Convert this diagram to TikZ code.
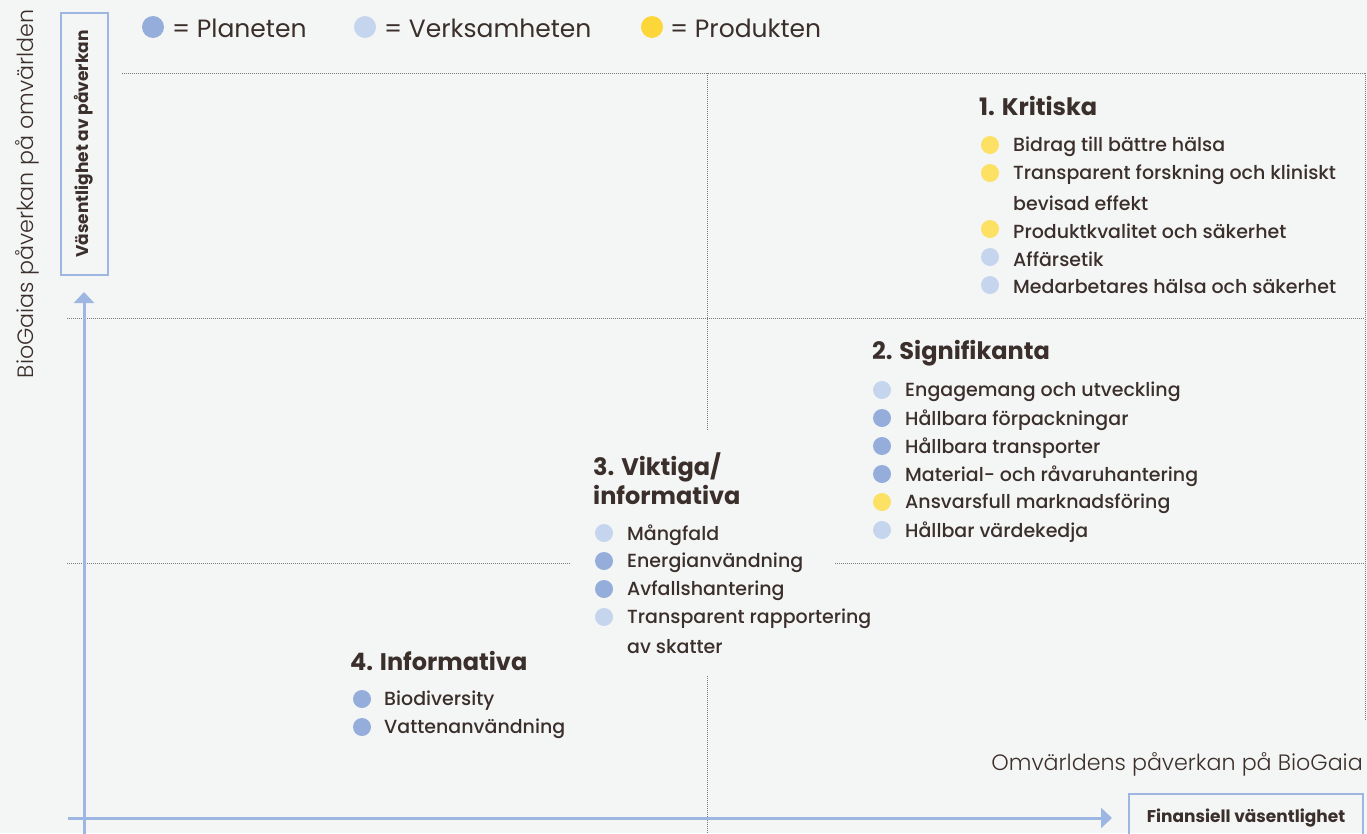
\documentclass[tikz,border=0pt]{standalone}
\usepackage{fontspec}
\setmainfont{Poppins}
\newfontfamily\plight{Poppins Light}
\newfontfamily\pmed{Poppins Medium}
\usetikzlibrary{arrows.meta}
\definecolor{bg}{HTML}{F4F6F5}
\definecolor{txt}{HTML}{3B2F2C}
\definecolor{planet}{HTML}{94ADDB}
\definecolor{verk}{HTML}{C6D5EE}
\definecolor{prod}{HTML}{FDE164}
\definecolor{prodL}{HTML}{FDD63A}
\definecolor{axis}{HTML}{9DB6E2}
\definecolor{gridc}{HTML}{7A7A7A}
\tikzset{
  gridline/.style={gridc,line width=0.8pt,dash pattern=on 1pt off 1pt},
  axisline/.style={axis,line width=3pt,-{Triangle[width=20pt,length=11pt]}},
  itemtxt/.style={anchor=west,font=\pmed\fontsize{19}{22}\selectfont},
  headtxt/.style={anchor=west,align=left,font=\fontsize{24}{29}\selectfont\bfseries},
  legtxt/.style={anchor=west,font=\fontsize{25}{30}\selectfont},
  lighttxt/.style={font=\plight\fontsize{22.2}{26}\selectfont},
  boxlabel/.style={draw=axis,line width=2pt,font=\fontsize{17}{20}\selectfont\bfseries},
  dotp/.style={circle,fill=planet,minimum size=18pt},
  dotv/.style={circle,fill=verk,minimum size=18pt},
  doty/.style={circle,fill=prod,minimum size=18pt},
}
\begin{document}
\begin{tikzpicture}[x=1pt,y=-1pt,every node/.style={text=txt,inner sep=0pt}]
\fill[bg] (0,0) rectangle (1367,833);
\useasboundingbox (0,0) rectangle (1367,833);

% grid
\draw[gridline] (122,73) -- (1365,73);
\draw[gridline] (67,318) -- (1365,318);
\draw[gridline] (67,563) -- (570,563);
\draw[gridline] (835,563) -- (1365,563);
\draw[gridline] (707,73) -- (707,430);
\draw[gridline] (707,676) -- (707,833);
\draw[gridline] (1365,73) -- (1365,720);

% axes
\coordinate (vstart) at (84,840);
\coordinate (vend) at (84,292);
\coordinate (hstart) at (68,818);
\coordinate (hend) at (1112,818);
\draw[axisline] (vstart) -- (vend);
\draw[axisline] (hstart) -- (hend);

% axis labels
\node[boxlabel,rotate=90,minimum width=262pt,minimum height=47pt] (vbox) at (84,144) {Väsentlighet av påverkan};
\node[boxlabel,minimum width=234pt,minimum height=48pt] (hbox) at (1246,818) {Finansiell väsentlighet};
\node[lighttxt,rotate=90] (vlab) at (27,194) {BioGaias påverkan på omvärlden};
\node[lighttxt,anchor=east] (hlab) at (1363,764) {Omvärldens påverkan på BioGaia};

% legend
\node[circle,fill=planet,minimum size=22pt] (l1) at (153,27) {};
\node[legtxt] (l1t) at (172,28) {= Planeten};
\node[circle,fill=verk,minimum size=22pt] (l2) at (365,27) {};
\node[legtxt] (l2t) at (384,28) {= Verksamheten};
\node[circle,fill=prodL,minimum size=22pt] (l3) at (652,27) {};
\node[legtxt] (l3t) at (670,28) {= Produkten};

% 1. Kritiska
\node[headtxt] (h1) at (979,106) {1. Kritiska};
\foreach \i/\yy/\st/\t in {1/145/doty/Bidrag till bättre hälsa,
  2/173/doty/Transparent forskning och kliniskt,
  3/229/doty/Produktkvalitet och säkerhet,
  4/257/dotv/Affärsetik,
  5/285/dotv/Medarbetares hälsa och säkerhet}{
  \node[\st] (kd\i) at (990,\yy) {};
  \node[itemtxt] (kt\i) at (1013,\yy+2) {\t};
}
\node[itemtxt] (kt6) at (1013,203) {bevisad effekt};

% 2. Signifikanta
\node[headtxt] (h2) at (872,353) {2. Signifikanta};
\foreach \i/\yy/\st/\t in {1/390/dotv/Engagemang och utveckling,
  2/418/dotp/Hållbara förpackningar,
  3/446/dotp/Hållbara transporter,
  4/474/dotp/Material- och råvaruhantering,
  5/502/doty/Ansvarsfull marknadsföring,
  6/530/dotv/Hållbar värdekedja}{
  \node[\st] (sd\i) at (882,\yy) {};
  \node[itemtxt] (st\i) at (905,\yy+2) {\t};
}

% 3. Viktiga/informativa
\node[headtxt] (h3) at (593,479) {3. Viktiga/\\informativa};
\foreach \i/\yy/\st/\t in {1/533/dotv/Mångfald,
  2/561/dotp/Energianvändning,
  3/589/dotp/Avfallshantering,
  4/617/dotv/Transparent rapportering}{
  \node[\st] (vd\i) at (604,\yy) {};
  \node[itemtxt] (vt\i) at (627,\yy+2) {\t};
}
\node[itemtxt] (vt5) at (627,647) {av skatter};

% 4. Informativa
\node[headtxt] (h4) at (350,661) {4. Informativa};
\foreach \i/\yy/\st/\t in {1/699/dotp/Biodiversity,
  2/727/dotp/Vattenanvändning}{
  \node[\st] (id\i) at (362,\yy) {};
  \node[itemtxt] (it\i) at (384,\yy+2) {\t};
}
\end{tikzpicture}
\end{document}
